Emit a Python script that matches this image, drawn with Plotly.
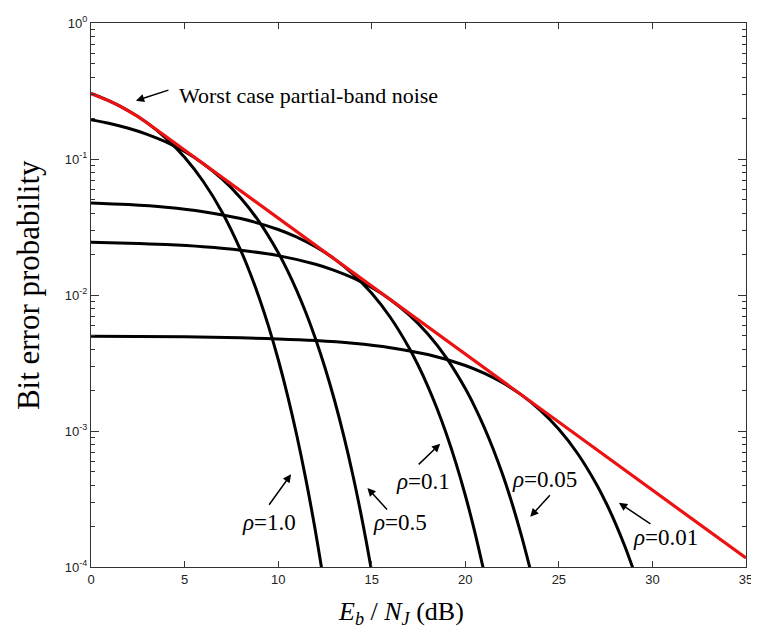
import plotly.graph_objects as go

# ---- data (Eb/NJ in dB, bit error probability) ----
worst_x = [0, 0.5, 1, 1.5, 2, 2.5, 3.01, 5, 10, 15, 20, 25, 30, 35]
worst_y = [0.3033, 0.2853, 0.2664, 0.2468, 0.2264, 0.2055, 0.1839, 0.1163,
           0.03679, 0.01163, 0.003679, 0.001163, 0.0003679, 0.0001163]

rho10_x = [0, 1, 2, 3, 4, 5, 6, 7, 8, 8.5, 9, 9.5, 10, 10.5, 11, 11.5, 12, 12.5]
rho10_y = [0.3033, 0.2664, 0.2264, 0.1844, 0.1424, 0.1029, 0.0683, 0.0408,
           0.02132, 0.01451, 0.00942, 0.005803, 0.003369, 0.001831, 0.000923,
           0.000428, 0.0001809, 0.0000688]

rho05_x = [0, 1, 2, 3, 4, 5, 6, 7, 8, 9, 10, 10.5, 11, 11.5, 12, 12.5, 13,
           13.5, 14, 14.5, 15, 15.5]
rho05_y = [0.1947, 0.1825, 0.1682, 0.1518, 0.1334, 0.1134, 0.0924, 0.0714,
           0.05163, 0.03432, 0.02052, 0.01513, 0.01074, 0.007318, 0.004755,
           0.002932, 0.001704, 0.0009275, 0.0004685, 0.0002177, 0.00009215,
           0.0000351]

rho01_x = [0, 2, 4, 6, 8, 10, 11, 12, 13, 14, 15, 16, 17, 17.5, 18, 18.5, 19,
           19.5, 20, 20.5, 21]
rho01_y = [0.04756, 0.04619, 0.04410, 0.04098, 0.03647, 0.03033, 0.02664,
           0.02264, 0.01844, 0.01424, 0.01029, 0.006831, 0.004080, 0.003004,
           0.002132, 0.001451, 0.000942, 0.000580, 0.000337, 0.000183,
           0.0000923]

rho005_x = [0, 2, 4, 6, 8, 10, 12, 13, 14, 15, 16, 17, 18, 19, 20, 20.5, 21,
            21.5, 22, 22.5, 23, 23.5]
rho005_y = [0.02438, 0.02403, 0.02348, 0.02263, 0.02135, 0.01947, 0.01682,
            0.01518, 0.01334, 0.01134, 0.00924, 0.00714, 0.005163, 0.003432,
            0.002052, 0.001513, 0.001074, 0.000732, 0.000476, 0.000293,
            0.000170, 0.0000928]

rho001_x = [0, 5, 8, 10, 12, 14, 16, 18, 20, 21, 22, 23, 24, 25, 26, 27,
            27.5, 28, 28.5, 29]
rho001_y = [0.004975, 0.004922, 0.004845, 0.004756, 0.004619, 0.004410,
            0.004098, 0.003647, 0.003033, 0.002664, 0.002264, 0.001844,
            0.001424, 0.001029, 0.000683, 0.000408, 0.0003004, 0.0002132,
            0.0001451, 0.0000942]

x_ticks = [0, 5, 10, 15, 20, 25, 30, 35]
y_ticks = [1e-4, 1e-3, 1e-2, 1e-1, 1]
y_ticktext = ["10<sup>-4</sup>", "10<sup>-3</sup>", "10<sup>-2</sup>",
              "10<sup>-1</sup>", "10<sup>0</sup>"]

# labels: (text, x, log10 y)
rho_labels = [
    ("<i>ρ</i>=1.0", 9.50, -3.672),
    ("<i>ρ</i>=0.5", 16.49, -3.674),
    ("<i>ρ</i>=0.1", 17.72, -3.371),
    ("<i>ρ</i>=0.05", 24.24, -3.356),
    ("<i>ρ</i>=0.01", 30.72, -3.783),
]
# arrows: head (x, log10 y), tail offset in px
arrows = [
    (2.40, -0.571, 34, -11),
    (10.69, -3.318, -23, 32),
    (14.77, -3.419, 21, 23),
    (18.66, -3.094, -23, 22),
    (23.47, -3.631, 21, -23),
    (28.21, -3.528, 33, 22),
]

serif = "Liberation Serif, Times New Roman, serif"
sans = "Liberation Sans, Arial, Helvetica, sans-serif"

fig = go.Figure()
for xs, ys in [(rho10_x, rho10_y), (rho05_x, rho05_y), (rho01_x, rho01_y),
               (rho005_x, rho005_y), (rho001_x, rho001_y)]:
    fig.add_trace(go.Scatter(x=xs, y=ys, mode="lines",
                             line=dict(color="black", width=3, shape="spline",
                                       smoothing=1.0),
                             showlegend=False, hoverinfo="skip"))
fig.add_trace(go.Scatter(x=worst_x, y=worst_y, mode="lines",
                         line=dict(color="#ee1111", width=3.2),
                         showlegend=False, hoverinfo="skip"))

minor_vals = []
for k in range(-4, 0):
    for m in range(2, 10):
        minor_vals.append(m * 10 ** k)

fig.update_xaxes(range=[0, 35], tickvals=x_ticks, ticks="inside", ticklen=6,
                 tickcolor="#333", showline=True, linecolor="#333",
                 linewidth=1, mirror="ticks", showgrid=False, zeroline=False,
                 ticklabeloverflow="allow",
                 tickfont=dict(family=sans, size=13, color="#222"))
fig.update_yaxes(type="log", range=[-4, 0], tickvals=y_ticks,
                 ticktext=y_ticktext, ticks="inside", ticklen=8,
                 tickcolor="#333", showline=True, linecolor="#333",
                 linewidth=1, mirror="ticks", showgrid=False, zeroline=False,
                 ticklabeloverflow="allow",
                 minor=dict(tickvals=minor_vals, ticks="inside", ticklen=4,
                            tickcolor="#333", showgrid=False),
                 tickfont=dict(family=sans, size=13, color="#222"))

ann = []
ann.append(dict(text="Worst case partial-band noise", x=4.57, y=-0.535,
                xref="x", yref="y", xanchor="left", yanchor="middle",
                showarrow=False, font=dict(family=serif, size=22, color="black")))
for t, x, y in rho_labels:
    ann.append(dict(text=t, x=x, y=y, xref="x", yref="y", xanchor="center",
                    yanchor="middle", showarrow=False,
                    font=dict(family=serif, size=23, color="black")))
for x, y, ax, ay in arrows:
    ann.append(dict(text="", x=x, y=y, xref="x", yref="y", ax=ax, ay=ay,
                    showarrow=True, arrowhead=2, arrowsize=1.1,
                    arrowwidth=1.5, arrowcolor="black"))
ann.append(dict(text="Bit error probability", x=-0.0955, y=0.519,
                xref="paper", yref="paper", textangle=-90, showarrow=False,
                xanchor="center", yanchor="middle",
                font=dict(family=serif, size=31, color="black")))
ann.append(dict(text="<i>E<sub>b</sub></i> / <i>N<sub>J</sub></i> (dB)",
                x=0.474, y=-0.085, xref="paper", yref="paper",
                showarrow=False, xanchor="center", yanchor="middle",
                font=dict(family=serif, size=26, color="black")))

# the page body has an 8px default margin, so the figure is sized and
# offset to land the plot area where the reference has it
fig.update_layout(width=751, height=632,
                  margin=dict(l=83, r=8, t=6, b=73),
                  plot_bgcolor="white", paper_bgcolor="white",
                  annotations=ann)

fig.write_html("out.html")
